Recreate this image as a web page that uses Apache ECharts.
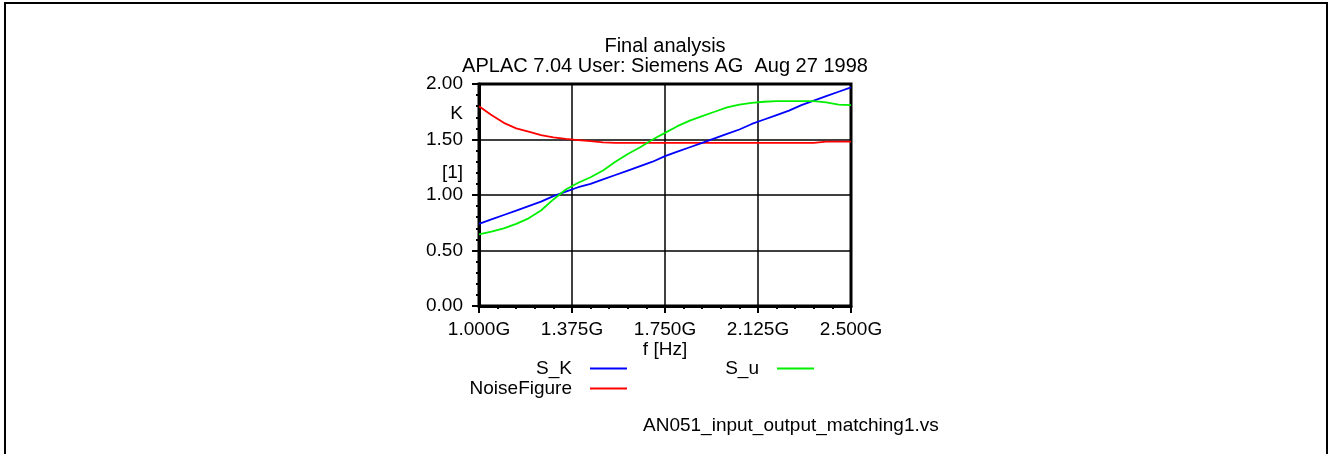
<!DOCTYPE html>
<html>
<head>
<meta charset="utf-8">
<script src="https://cdn.jsdelivr.net/npm/echarts@6/dist/echarts.min.js"></script>
<style>
  html, body { margin: 0; padding: 0; background: #fff; }
  #chart { width: 1329px; height: 454px; }
</style>
</head>
<body>
<div id="chart"></div>
<script>
// Sweep frequency (GHz)
const freqGHz = [1.00, 1.05, 1.10, 1.15, 1.20, 1.25, 1.30, 1.35, 1.40, 1.45,
                 1.50, 1.55, 1.60, 1.65, 1.70, 1.75, 1.80, 1.85, 1.90, 1.95,
                 2.00, 2.05, 2.10, 2.15, 2.20, 2.25, 2.30, 2.35, 2.40, 2.45, 2.50];

// Stability factor K
const sK = [0.74, 0.78, 0.82, 0.86, 0.90, 0.94, 0.99, 1.03, 1.07, 1.10,
            1.14, 1.18, 1.22, 1.26, 1.30, 1.35, 1.39, 1.43, 1.47, 1.51,
            1.55, 1.59, 1.64, 1.68, 1.72, 1.76, 1.81, 1.85, 1.89, 1.93, 1.97];

// S_u
const sU = [0.645, 0.67, 0.70, 0.74, 0.79, 0.86, 0.96, 1.05, 1.11, 1.16,
            1.22, 1.30, 1.37, 1.43, 1.50, 1.56, 1.62, 1.67, 1.71, 1.75,
            1.79, 1.815, 1.83, 1.84, 1.845, 1.845, 1.845, 1.845, 1.835, 1.815, 1.81];

// Noise figure
const noiseFigure = [1.80, 1.72, 1.65, 1.60, 1.57, 1.54, 1.52, 1.505, 1.495, 1.485,
                     1.475, 1.47, 1.47, 1.47, 1.47, 1.47, 1.47, 1.47, 1.47, 1.47,
                     1.47, 1.47, 1.47, 1.47, 1.47, 1.47, 1.47, 1.47, 1.48, 1.48, 1.48];

// Y-axis unit captions and where they sit on the scale
const yCaptions = [{ value: 1.73, text: 'K' }, { value: 1.20, text: '[1]' }];

const FONT = '"Liberation Sans", Arial, sans-serif';
const FS = 19;
const FS_TITLE = 20;
const textBase = { color: '#000', fontFamily: FONT, fontSize: FS };

const toPairs = ys => freqGHz.map((f, i) => [f, ys[i]]);

const chart = echarts.init(document.getElementById('chart'), null, { renderer: 'canvas' });

function legendFor(name, right, top) {
  return {
    data: [name],
    right: right,
    top: top,
    align: 'right',
    icon: 'rect',
    itemWidth: 37,
    itemHeight: 2,
    selectedMode: false,
    textStyle: Object.assign({}, textBase, { padding: [0, 13, 0, 0] })
  };
}

const option = {
  animation: false,
  backgroundColor: '#fff',
  grid: {
    left: 479, right: 478, top: 84, bottom: 148,
    show: true, borderColor: '#000', borderWidth: 3, backgroundColor: 'transparent'
  },
  xAxis: {
    type: 'value',
    min: 1.0, max: 2.5, interval: 0.375,
    axisLine: { lineStyle: { color: '#000', width: 3 } },
    axisTick: { length: 7, lineStyle: { color: '#000', width: 2 } },
    minorTick: { show: true, splitNumber: 5, length: 3, lineStyle: { color: '#000', width: 2 } },
    splitLine: { show: true, lineStyle: { color: '#000', width: 1.5 } },
    axisLabel: Object.assign({}, textBase, {
      margin: 14,
      showMaxLabel: true, showMinLabel: true,
      formatter: v => v.toFixed(3) + 'G'
    }),
    name: 'f [Hz]',
    nameLocation: 'middle',
    nameGap: 32,
    nameTextStyle: Object.assign({}, textBase)
  },
  yAxis: [
    {
      type: 'value',
      min: 0, max: 2, interval: 0.5,
      axisLine: { show: true, lineStyle: { color: '#000', width: 3 } },
      axisTick: { show: true, length: 7, lineStyle: { color: '#000', width: 2 } },
      minorTick: { show: true, splitNumber: 5, length: 3, lineStyle: { color: '#000', width: 2 } },
      splitLine: { show: true, lineStyle: { color: '#000', width: 1.5 } },
      axisLabel: Object.assign({}, textBase, {
        margin: 16,
        padding: [3, 0, 0, 0],
        showMaxLabel: true, showMinLabel: true,
        formatter: v => v.toFixed(2)
      })
    },
    {
      // carries only the unit captions between the numeric labels
      type: 'value',
      position: 'left',
      min: 0, max: 2, interval: 0.01,
      axisLine: { show: false },
      axisTick: { show: false },
      splitLine: { show: false },
      axisLabel: Object.assign({}, textBase, {
        margin: 16,
        formatter: v => {
          const c = yCaptions.find(c => Math.abs(c.value - v) < 1e-6);
          return c ? c.text : '';
        }
      })
    }
  ],
  legend: [
    legendFor('S_K', 697, 354),
    legendFor('NoiseFigure', 697, 374),
    legendFor('S_u', 510, 354)
  ],
  series: [
    {
      name: 'NoiseFigure', type: 'line', data: toPairs(noiseFigure),
      showSymbol: false, symbol: 'none', color: '#ff0000',
      lineStyle: { color: '#ff0000', width: 1.8 }
    },
    {
      name: 'S_K', type: 'line', data: toPairs(sK),
      showSymbol: false, symbol: 'none', color: '#0000ff',
      lineStyle: { color: '#0000ff', width: 1.8 }
    },
    {
      name: 'S_u', type: 'line', data: toPairs(sU),
      showSymbol: false, symbol: 'none', color: '#00f000',
      lineStyle: { color: '#00f000', width: 1.8 }
    }
  ],
  graphic: [
    {
      type: 'rect', silent: true,
      shape: { x: 5, y: 3, width: 1322, height: 470 },
      style: { fill: 'none', stroke: '#000', lineWidth: 2 }
    },
    {
      type: 'text', x: 665, y: 46, silent: true,
      style: { text: 'Final analysis', font: FS_TITLE + 'px ' + FONT, fill: '#000',
               align: 'center', verticalAlign: 'middle', textAlign: 'center', textVerticalAlign: 'middle' }
    },
    {
      type: 'text', x: 665, y: 66, silent: true,
      style: { text: 'APLAC 7.04 User: Siemens AG  Aug 27 1998', font: FS_TITLE + 'px ' + FONT, fill: '#000',
               align: 'center', verticalAlign: 'middle', textAlign: 'center', textVerticalAlign: 'middle' }
    },
    {
      type: 'text', x: 643, y: 426, silent: true,
      style: { text: 'AN051_input_output_matching1.vs', font: FS + 'px ' + FONT, fill: '#000',
               align: 'left', verticalAlign: 'middle', textAlign: 'left', textVerticalAlign: 'middle' }
    }
  ]
};

chart.setOption(option);
</script>
</body>
</html>
